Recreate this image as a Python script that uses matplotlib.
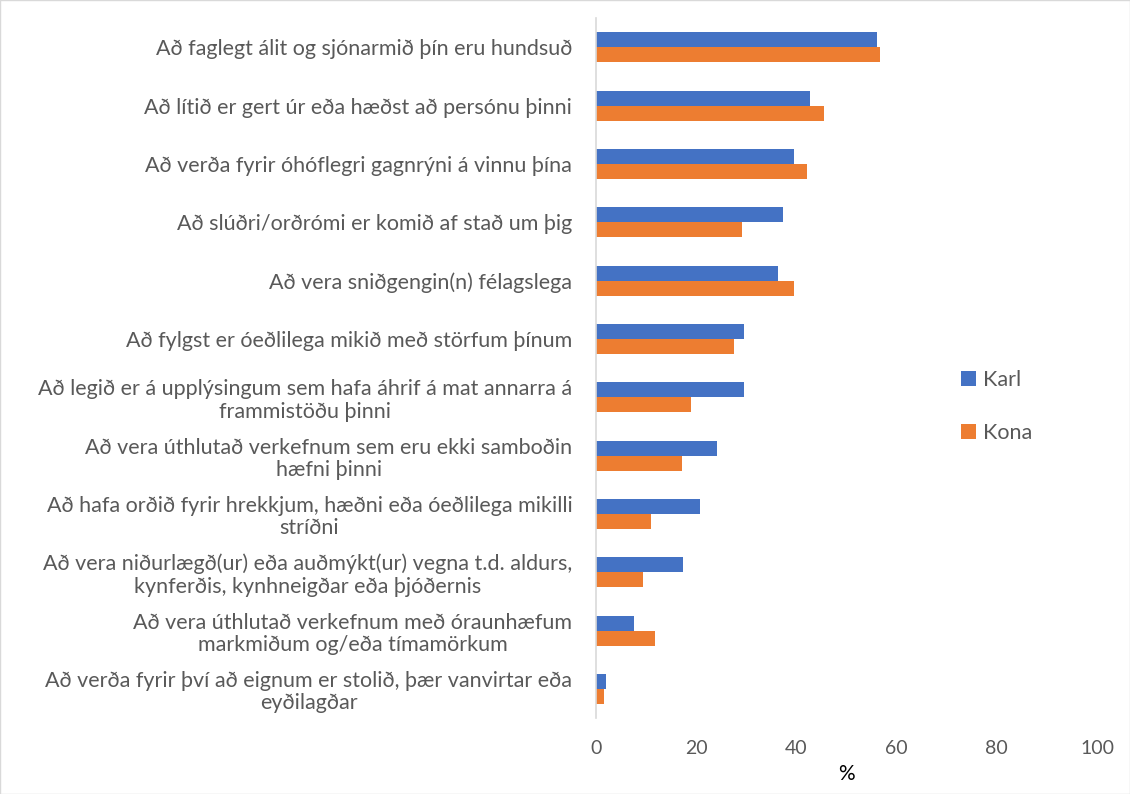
import numpy as np
import matplotlib.pyplot as plt
from matplotlib.patches import Rectangle

plt.rcParams['font.family'] = ['Lato', 'DejaVu Sans']

categories = [
    "Að faglegt álit og sjónarmið þín eru hundsuð",
    "Að lítið er gert úr eða hæðst að persónu þinni",
    "Að verða fyrir óhóflegri gagnrýni á vinnu þína",
    "Að slúðri/orðrómi er komið af stað um þig",
    "Að vera sniðgengin(n) félagslega",
    "Að fylgst er óeðlilega mikið með störfum þínum",
    "Að legið er á upplýsingum sem hafa áhrif á mat annarra á\nframmistöðu þinni",
    "Að vera úthlutað verkefnum sem eru ekki samboðin\nhæfni þinni",
    "Að hafa orðið fyrir hrekkjum, hæðni eða óeðlilega mikilli\nstríðni",
    "Að vera niðurlægð(ur) eða auðmýkt(ur) vegna t.d. aldurs,\nkynferðis, kynhneigðar eða þjóðernis",
    "Að vera úthlutað verkefnum með óraunhæfum\nmarkmiðum og/eða tímamörkum",
    "Að verða fyrir því að eignum er stolið, þær vanvirtar eða\neyðilagðar",
]
karl = [56.0, 42.8, 39.6, 37.4, 36.4, 29.5, 29.5, 24.1, 20.8, 17.4, 7.5, 2.1]
kona = [56.6, 45.5, 42.2, 29.2, 39.6, 27.5, 18.9, 17.1, 10.9, 9.3, 11.8, 1.7]
xticks = [0, 20, 40, 60, 80, 100]

blue = '#4472C4'
orange = '#ED7D31'
gray = '#595959'

fig = plt.figure(figsize=(11.3, 7.94), dpi=100)
ax = fig.add_axes([0.5274, 0.0957, 0.4434, 0.8816])

y = np.arange(len(categories))
h = 0.257
ax.barh(y - h / 2, karl, height=h, color=blue, label='Karl')
ax.barh(y + h / 2, kona, height=h, color=orange, label='Kona')

ax.set_ylim(len(categories) - 0.5, -0.5)
ax.set_xlim(0, 100)
ax.set_xticks(xticks)
ax.set_yticks(y)
ax.set_yticklabels(categories, multialignment='center', fontsize=15.5, color=gray,
                   linespacing=1.15)
ax.tick_params(axis='y', length=0, pad=17)
ax.tick_params(axis='x', length=0, pad=16, labelsize=14, labelcolor=gray)
ax.set_xlabel('%', fontsize=15, labelpad=5)

for s in ['top', 'right', 'bottom']:
    ax.spines[s].set_visible(False)
ax.spines['left'].set_color('#d9d9d9')
ax.spines['left'].set_linewidth(1.2)

leg = fig.legend(loc='center left', bbox_to_anchor=(0.833, 0.488), frameon=False,
                 fontsize=15.5, handlelength=0.7, handleheight=0.7,
                 labelspacing=1.5, handletextpad=0.35)
for t in leg.get_texts():
    t.set_color(gray)

fig.patches.append(Rectangle((0, 0), 1, 1, transform=fig.transFigure,
                             fill=False, edgecolor='#d9d9d9', linewidth=1))

fig.savefig('out.png', dpi=100)
